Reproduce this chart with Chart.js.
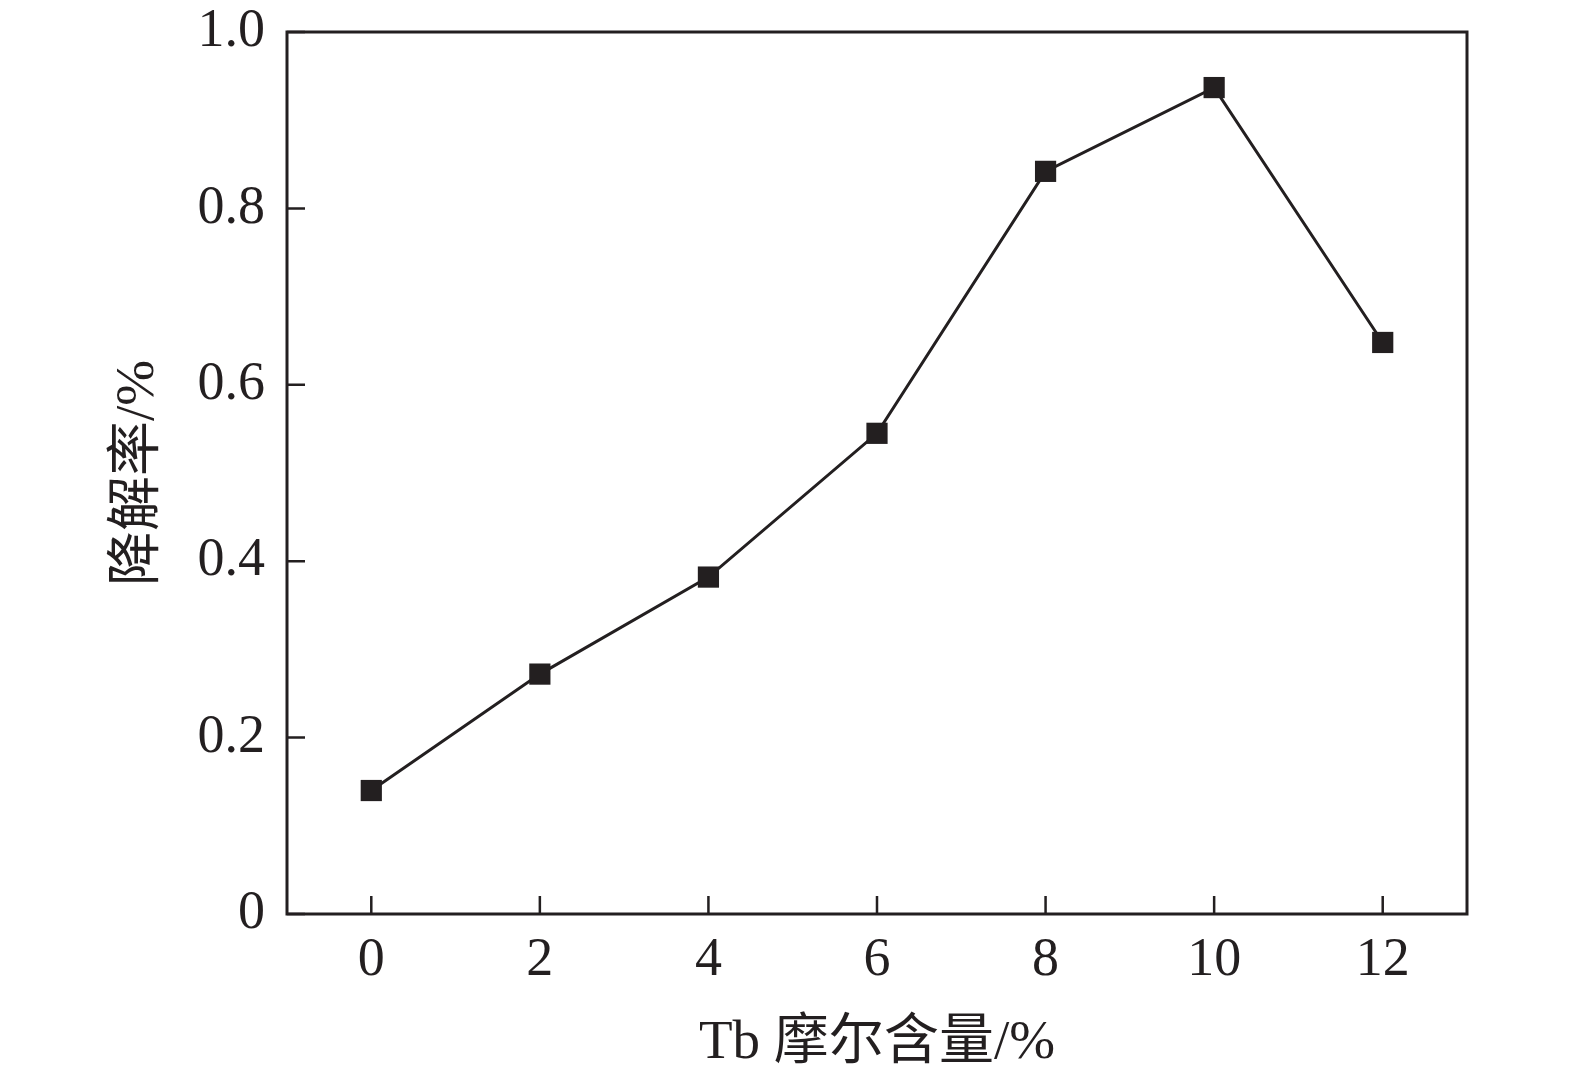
<!DOCTYPE html>
<html>
<head>
<meta charset="utf-8">
<script src="https://cdn.jsdelivr.net/npm/chart.js@4/dist/chart.umd.min.js"></script>
<style>
  html, body { margin: 0; padding: 0; background: #fff; }
  #wrap { width: 1575px; height: 1081px; position: relative; }
</style>
</head>
<body>
<div id="wrap"><canvas id="c" width="1575" height="1081"></canvas></div>
<script>
const xValues = [0, 2, 4, 6, 8, 10, 12];
const yValues = [0.140, 0.272, 0.382, 0.545, 0.842, 0.937, 0.648];
const xTicks = [0, 2, 4, 6, 8, 10, 12];
const yTicks = [0, 0.2, 0.4, 0.6, 0.8, 1.0];
const xTitle = 'Tb 摩尔含量/%';
const yTitle = '降解率/%';

const ink = '#231f20';
const font = '"Liberation Serif", "Times New Roman", "Noto Sans CJK SC", serif';

const inwardTicks = {
  id: 'inwardTicks',
  afterDraw(chart) {
    const ctx = chart.ctx;
    const xs = chart.scales.x, ys = chart.scales.y;
    const a = chart.chartArea;
    ctx.save();
    ctx.strokeStyle = ink;
    ctx.lineWidth = 2.5;
    ctx.beginPath();
    xTicks.forEach(v => {
      const px = xs.getPixelForValue(v);
      ctx.moveTo(px, a.bottom); ctx.lineTo(px, a.bottom - 18);
    });
    yTicks.forEach(v => {
      const py = ys.getPixelForValue(v);
      ctx.moveTo(a.left, py); ctx.lineTo(a.left + 18, py);
    });
    ctx.stroke();
    ctx.lineWidth = 3;
    ctx.strokeRect(a.left, a.top, a.right - a.left, a.bottom - a.top);
    ctx.restore();
  }
};

new Chart(document.getElementById('c'), {
  type: 'scatter',
  data: {
    datasets: [{
      data: xValues.map((x, i) => ({ x: x, y: yValues[i] })),
      showLine: true,
      borderColor: ink,
      borderWidth: 3,
      pointStyle: 'rect',
      pointRadius: 15,
      pointBackgroundColor: ink,
      pointBorderColor: ink,
      pointBorderWidth: 0,
      tension: 0
    }]
  },
  plugins: [inwardTicks],
  options: {
    responsive: false,
    animation: false,
    events: [],
    layout: { padding: { left: 0, right: 108, top: 32, bottom: 0 } },
    plugins: { legend: { display: false }, tooltip: { enabled: false } },
    scales: {
      x: {
        type: 'linear',
        min: -1, max: 13,
        afterBuildTicks: s => { s.ticks = xTicks.map(v => ({ value: v })); },
        afterFit: s => { s.height = 167; s.paddingLeft = 0; s.paddingRight = 0; },
        grid: { display: false, drawTicks: false },
        border: { display: false },
        ticks: {
          color: ink, padding: 14,
          font: { family: font, size: 54 },
          maxRotation: 0, autoSkip: false
        },
        title: {
          display: true, text: xTitle, color: ink,
          font: { family: font, size: 55 },
          padding: { top: 0, bottom: 4 }
        }
      },
      y: {
        type: 'linear',
        min: 0, max: 1,
        afterBuildTicks: s => { s.ticks = yTicks.map(v => ({ value: v })); },
        afterFit: s => { s.width = 287; s.paddingTop = 0; s.paddingBottom = 0; },
        grid: { display: false, drawTicks: false },
        border: { display: false },
        ticks: {
          color: ink, padding: 22,
          font: { family: font, size: 54 },
          callback: v => v === 0 ? '0' : v.toFixed(1)
        },
        title: {
          display: true, text: yTitle, color: ink,
          font: { family: font, size: 55 },
          padding: { top: 106, bottom: 0 }
        }
      }
    }
  }
});
</script>
</body>
</html>
